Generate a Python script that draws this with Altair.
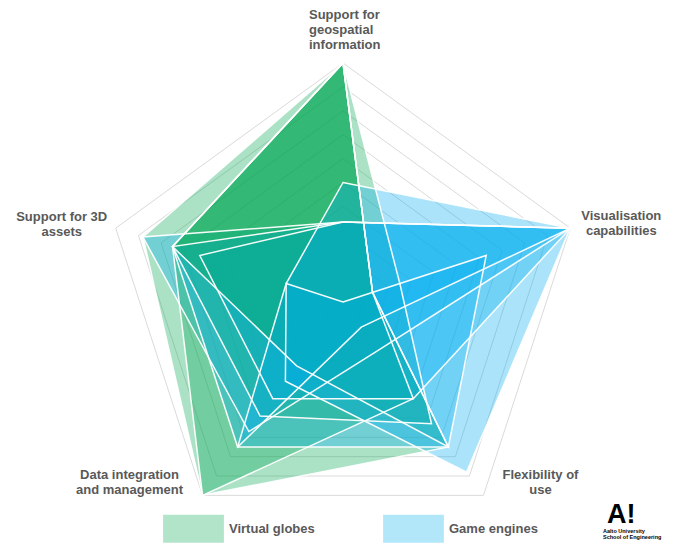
import altair as alt
import pandas as pd

# Axis (criteria) labels, clockwise from the top
axis_labels = [
    "Support for\ngeospatial\ninformation",
    "Visualisation\ncapabilities",
    "Flexibility of\nuse",
    "Data integration\nand management",
    "Support for 3D\nassets",
]

# Tools (in drawing order) and their group
tool_names = ["T1", "T2", "T3", "T4", "T5", "T6", "T7", "T8", "T9"]
tool_groups = ["Virtual globes", "Game engines", "Virtual globes", "Game engines",
               "Virtual globes", "Game engines", "Virtual globes", "Game engines",
               "Game engines"]

# Scores per criterion (0-10), one entry per tool
geo      = [10.0, 3.35, 10.0, 3.35, 10.0, 3.35, 10.0, 5.0, 0.0]
vis      = [1.3, 10.0, 2.5, 10.0, 1.3, 10.0, 1.3, 10.0, 6.3]
flex     = [7.5, 2.5, 6.3, 5.0, 5.0, 1.3, 7.5, 8.8, 7.5]
data_int = [10.0, 6.7, 5.9, 5.0, 10.0, 7.5, 3.3, 4.1, 7.5]
assets3d = [8.8, 8.8, 7.5, 6.3, 7.5, 7.5, 7.5, 2.5, 2.5]

grid_levels = [1, 2, 3, 4, 5, 6, 7, 8, 9, 10]
legend_groups = ["Virtual globes", "Game engines"]
legend_colors = ["#00a651", "#00aeef"]

rows = []
for name, grp, *vals in zip(tool_names, tool_groups, geo, vis, flex, data_int, assets3d):
    for i, v in enumerate(vals):
        rows.append({"tool": name, "group": grp, "axis": i, "value": v})
df = pd.DataFrame(rows)

grid_rows = [{"level": lv, "axis": i, "value": lv} for lv in grid_levels for i in range(5)]
grid_df = pd.DataFrame(grid_rows)

label_df = pd.DataFrame({"axis": list(range(5)), "label": axis_labels, "value": [10] * 5})

PAD_TOP = 8
W, H = 659, 527
PX = 23.9
CX, CY = 335, 286
xscale = alt.Scale(domain=[-CX / PX, (W - CX) / PX], nice=False, zero=False)
yscale = alt.Scale(domain=[-(H - CY) / PX, CY / PX], nice=False, zero=False)

def polar(chart):
    return chart.transform_calculate(
        ang="datum.axis * 2 * PI / 5",
    ).transform_calculate(
        px="datum.value * sin(datum.ang)",
        py="datum.value * cos(datum.ang)",
    )

X = alt.X("px:Q", scale=xscale, axis=None)
Y = alt.Y("py:Q", scale=yscale, axis=None)

grid = polar(alt.Chart(grid_df)).mark_line(
    interpolate="linear-closed", stroke="#dadada", strokeWidth=1
).encode(x=X, y=Y, detail="level:N", order="axis:Q")

fills = polar(alt.Chart(df)).mark_line(
    interpolate="linear-closed", strokeWidth=0, strokeOpacity=0, fillOpacity=0.33
).encode(
    x=X, y=Y, detail="tool:N", order="axis:Q",
    fill=alt.Fill(
        "group:N",
        scale=alt.Scale(domain=legend_groups, range=legend_colors),
        legend=alt.Legend(
            title=None, orient="none", legendX=155, legendY=482, direction="horizontal",
            symbolType="M-1,-0.46L1,-0.46L1,0.46L-1,0.46Z", symbolSize=3700,
            symbolOpacity=0.3, symbolStrokeWidth=0, labelFont="Liberation Sans",
            labelFontSize=13, labelFontWeight="bold", labelColor="#595959",
            labelOffset=5, columnPadding=68, padding=0,
        ),
    ),
)

outlines = polar(alt.Chart(df)).mark_line(
    interpolate="linear-closed", stroke="white", strokeWidth=1.5, strokeOpacity=0.95
).encode(x=X, y=Y, detail="tool:N", order="axis:Q")

label_specs = [
    (0, "left", -34, -48),
    (1, "center", 51, -12),
    (2, "center", 57, -20),
    (3, "center", -73, -20),
    (4, "center", -54, -11),
]
label_layers = []
for idx, al, dx, dy in label_specs:
    label_layers.append(
        polar(alt.Chart(label_df).transform_filter(f"datum.axis == {idx}")).mark_text(
            align=al, baseline="middle", dx=dx, dy=dy, font="Liberation Sans",
            fontSize=13, fontWeight="bold", color="#595959", lineBreak="\n", lineHeight=15,
        ).encode(x=X, y=Y, text="label:N")
    )

logo_df = pd.DataFrame({"t": ["A!"]})
logo = alt.Chart(logo_df).mark_text(
    align="left", baseline="alphabetic", font="Liberation Sans", fontSize=27,
    fontWeight="bold", color="black",
).encode(x=alt.value(599), y=alt.value(507), text="t:N")
logo_small = alt.Chart(pd.DataFrame({"t": ["Aalto University\nSchool of Engineering"]})).mark_text(
    align="left", baseline="top", font="Liberation Sans", fontSize=5.5, fontWeight="bold",
    color="black", lineBreak="\n", lineHeight=6,
).encode(x=alt.value(595), y=alt.value(513), text="t:N")

chart = alt.layer(grid, fills, outlines, *label_layers, logo, logo_small).properties(
    width=W, height=H, padding={"top": PAD_TOP, "left": 0, "right": 0, "bottom": 0},
    autosize="none"
).configure_view(stroke=None)

chart.save("out.html", embed_options={"renderer": "svg", "actions": False})
